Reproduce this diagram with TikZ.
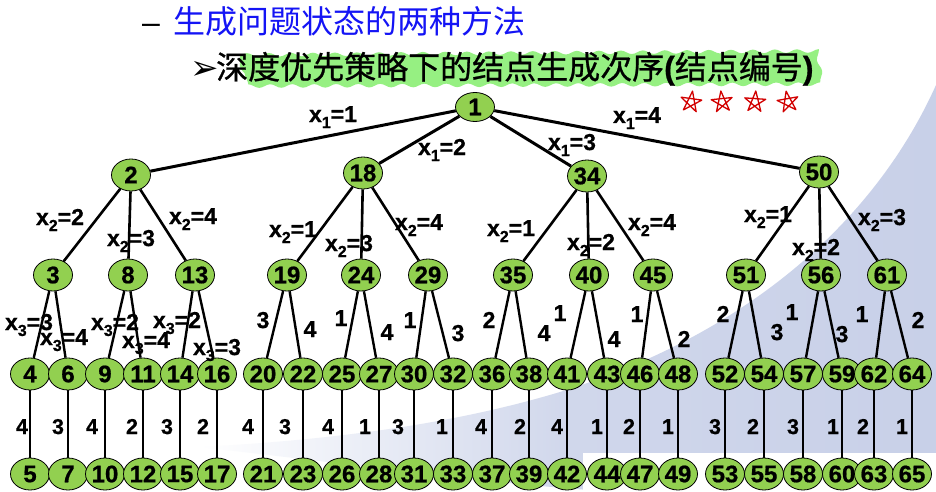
\documentclass[tikz,border=0pt]{standalone}
\usepackage{fontspec}
\setmainfont{Liberation Sans}[BoldFeatures={FakeBold=0.7}]
\newfontfamily\cjk{Noto Sans CJK SC}
\newfontfamily\cjkh{Noto Sans CJK SC}[FakeBold=0.8]
\newfontfamily\dejavu{DejaVu Sans}
\usetikzlibrary{shapes.geometric,decorations.pathmorphing}
\definecolor{nodegreen}{RGB}{146,208,80}
\definecolor{hlgreen}{RGB}{150,240,130}
\definecolor{swoosh}{RGB}{200,208,232}
\definecolor{titleblue}{RGB}{20,20,245}
\definecolor{starred}{RGB}{210,0,0}
\pgfdeclarelayer{back}
\pgfdeclarelayer{edges}
\pgfsetlayers{back,edges,main}
\newcommand\xl[2]{x\raisebox{-6pt}{\fontsize{16}{16}\selectfont #1}=#2}
\tikzset{
 tnode/.style={ellipse, draw=black, line width=0.8pt, fill=nodegreen, minimum width=39pt, minimum height=32pt, inner sep=0pt, font=\fontsize{24}{24}\selectfont\bfseries},
 rootnode/.style={tnode, minimum height=29pt},
 lbl/.style={anchor=base, inner sep=0pt, font=\fontsize{23}{23}\selectfont\bfseries},
 slbl/.style={anchor=base, inner sep=0pt, font=\fontsize{21.5}{21.5}\selectfont\bfseries},
 eA/.style={line width=3pt},
 eB/.style={line width=2.6pt},
 eC/.style={line width=2.4pt},
 eD/.style={line width=2pt},
 starpath/.style={draw=starred, line width=1.3pt, line join=round},
}
\begin{document}
\begin{tikzpicture}[x=1pt,y=-1pt]
\useasboundingbox (0,0) rectangle (936,492);
% background
\begin{pgfonlayer}{back}
\fill[white] (0,0) rectangle (936,492);
\shade[left color=white, right color=swoosh, middle color=swoosh!85] (936,85) .. controls (880,210) and (760,330) .. (560,392) .. controls (450,425) and (330,440) .. (200,447) .. controls (400,470) and (560,492) .. (640,492) -- (936,492) -- cycle;
\fill[white] (583,453) rectangle (936,492);
\fill[hlgreen, decorate, decoration={snake, amplitude=1.8pt, segment length=22pt}] (240,55) -- (810,51) -- (815,84) -- (240,86) -- cycle;
\end{pgfonlayer}
% titles
\node[anchor=base west, inner sep=0pt, font=\fontsize{32}{32}\selectfont] (dash) at (142,34) {–};
\node[anchor=base west, inner sep=0pt, font=\fontsize{32}{32}\selectfont\cjk, text=titleblue] (title) at (173,34) {生成问题状态的两种方法};
\node[anchor=base west, inner sep=0pt, font=\fontsize{34}{34}\selectfont\dejavu] (arrow) at (190,80) {➢};
\node[anchor=base west, inner sep=0pt, font=\fontsize{32}{32}\selectfont] (sub) at (216,79) {{\cjkh 深度优先策略下的结点生成次序}{\bfseries(}{\cjkh 结点编号}{\bfseries)}};
% stars
\foreach \cx/\a in {691/-8,722/6,755/-4,788/10} {
  \draw[starpath, shift={(\cx,102)}, rotate=\a] (-90:11) -- (54:11) -- (198:11) -- (342:11) -- (126:11) -- cycle;
}
% root and level 1
\node[rootnode] (n1) at (475,107) {1};
\node[tnode] (n2) at (131,175) {2};
\node[tnode] (n18) at (363,173) {18};
\node[tnode] (n34) at (587,176) {34};
\node[tnode] (n50) at (819,172) {50};
% level 2
\foreach \n/\x in {3/53,8/128,13/195,19/287,24/361,29/428,35/513,40/589,45/653,51/746,56/821,61/887}
  \node[tnode] (n\n) at (\x,275) {\n};
% level 3 and 4
\foreach \a/\b/\x/\l/\lx in {4/5/30/4/22, 6/7/68/3/58, 9/10/105/4/92, 11/12/143/2/132, 14/15/180/3/167, 16/17/217/2/203, 20/21/263/4/248, 22/23/303/3/285, 25/26/342/4/328, 27/28/379/1/365, 30/31/414/3/398, 32/33/453/1/442, 36/37/492/4/481, 38/39/529/2/520, 41/42/567/4/557, 43/44/607/1/597, 46/47/640/2/629, 48/49/678/1/668, 52/53/725/3/715, 54/55/764/2/753, 57/58/803/3/793, 59/60/842/1/833, 62/63/874/2/863, 64/65/912/1/902} {
  \node[tnode] (n\a) at (\x,374) {\a};
  \node[tnode] (n\b) at (\x,474) {\b};
  \node[slbl] (q\a) at (\lx,434) {\l};
  \begin{pgfonlayer}{edges}
  \draw[eD] (n\a) -- (n\b);
  \end{pgfonlayer}
}
% edges
\begin{pgfonlayer}{edges}
\foreach \c in {2,18,34,50} \draw[eA] (n1) -- (n\c);
\foreach \p/\c in {2/3,2/8,2/13,18/19,18/24,18/29,34/35,34/40,34/45,50/51,50/56,50/61} \draw[eB] (n\p) -- (n\c);
\foreach \p/\c in {3/4,3/6,8/9,8/11,13/14,13/16,19/20,19/22,24/25,24/27,29/30,29/32,35/36,35/38,40/41,40/43,45/46,45/48,51/52,51/54,56/57,56/59,61/62,61/64} \draw[eC] (n\p) -- (n\c);
\end{pgfonlayer}
% level 1 labels
\node[lbl] (a1) at (333,122) {\xl{1}{1}};
\node[lbl] (a2) at (442,155) {\xl{1}{2}};
\node[lbl] (a3) at (572,150) {\xl{1}{3}};
\node[lbl] (a4) at (637,123) {\xl{1}{4}};
% level 2 labels
\node[lbl] (b1) at (60,225) {\xl{2}{2}};
\node[lbl] (b2) at (131,246) {\xl{2}{3}};
\node[lbl] (b3) at (193,224) {\xl{2}{4}};
\node[lbl] (b4) at (293,237) {\xl{2}{1}};
\node[lbl] (b5) at (349,251) {\xl{2}{3}};
\node[lbl] (b6) at (419,230) {\xl{2}{4}};
\node[lbl] (b7) at (511,236) {\xl{2}{1}};
\node[lbl] (b8) at (591,250) {\xl{2}{2}};
\node[lbl] (b9) at (652,230) {\xl{2}{4}};
\node[lbl] (b10) at (768,222) {\xl{2}{1}};
\node[lbl] (b11) at (816,255) {\xl{2}{2}};
\node[lbl] (b12) at (882,225) {\xl{2}{3}};
% level 3 labels
\node[lbl] (c1) at (29,330) {\xl{3}{3}};
\node[lbl] (c2) at (64,345) {\xl{3}{4}};
\node[lbl] (c3) at (115,330) {\xl{3}{2}};
\node[lbl] (c4) at (146,348) {\xl{3}{4}};
\node[lbl] (c5) at (177,328) {\xl{3}{2}};
\node[lbl] (c6) at (217,355) {\xl{3}{3}};
\foreach \t/\x/\y [count=\i] in {3/263/328, 4/310/337, 1/341/326, 4/387/340, 1/410/328, 3/458/341, 2/489/328, 4/544/341, 1/560/321, 4/614/347, 1/637/322, 2/684/347, 2/723/322, 3/777/340, 1/792/320, 3/842/342, 1/862/322, 2/918/328}
  \node[lbl] (d\i) at (\x,\y) {\t};
\end{tikzpicture}
\end{document}
